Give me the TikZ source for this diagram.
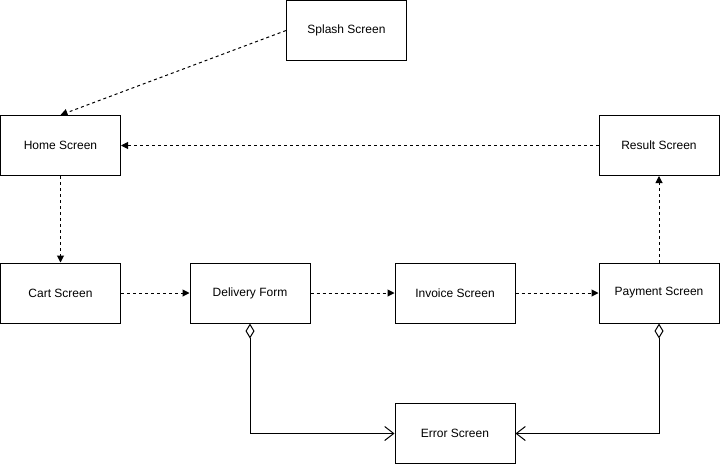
\documentclass[tikz,border=0pt]{standalone}
\usepackage{fontspec}
\setmainfont{Liberation Sans}
\usetikzlibrary{arrows.meta}
\begin{document}
\begin{tikzpicture}[x=1pt,y=-1pt,
  screen/.style={draw=black, line width=1pt, fill=white, minimum width=120pt, minimum height=60pt, inner sep=0pt, font=\fontsize{12pt}{14pt}\selectfont},
  flow/.style={line width=1pt, dash pattern=on 3pt off 3pt, -{Triangle[length=7pt,width=7pt]}},
  err/.style={line width=1pt, {Diamond[open,length=15pt,width=9pt]}-{Straight Barb[length=9pt,width=14pt,line width=1pt]}}
]
\useasboundingbox (0,0) rectangle (720,464);
\node[screen] (splash) at (346.5,30.5) {Splash Screen};
\node[screen] (home) at (60.5,145.5) {Home Screen};
\node[screen] (result) at (659,145.5) {Result Screen};
\node[screen] (cart) at (60.5,293) {Cart Screen};
\node[screen] (delivery) at (250,293) {Delivery Form};
\node[screen] (invoice) at (455,293) {Invoice Screen};
\node[screen] (payment) at (659,293) {Payment Screen};
\node[screen] (error) at (455,433.5) {Error Screen};
\draw[flow] (splash.west) -- (home.north);
\draw[flow] (result.west) -- (home.east);
\draw[flow] (home.south) -- (cart.north);
\draw[flow] (cart.east) -- (delivery.west);
\draw[flow] (delivery.east) -- (invoice.west);
\draw[flow] (invoice.east) -- (payment.west);
\draw[flow] (payment.north) -- (result.south);
\draw[err] (delivery.south) |- (error.west);
\draw[err] (payment.south) |- (error.east);
\end{tikzpicture}
\end{document}
